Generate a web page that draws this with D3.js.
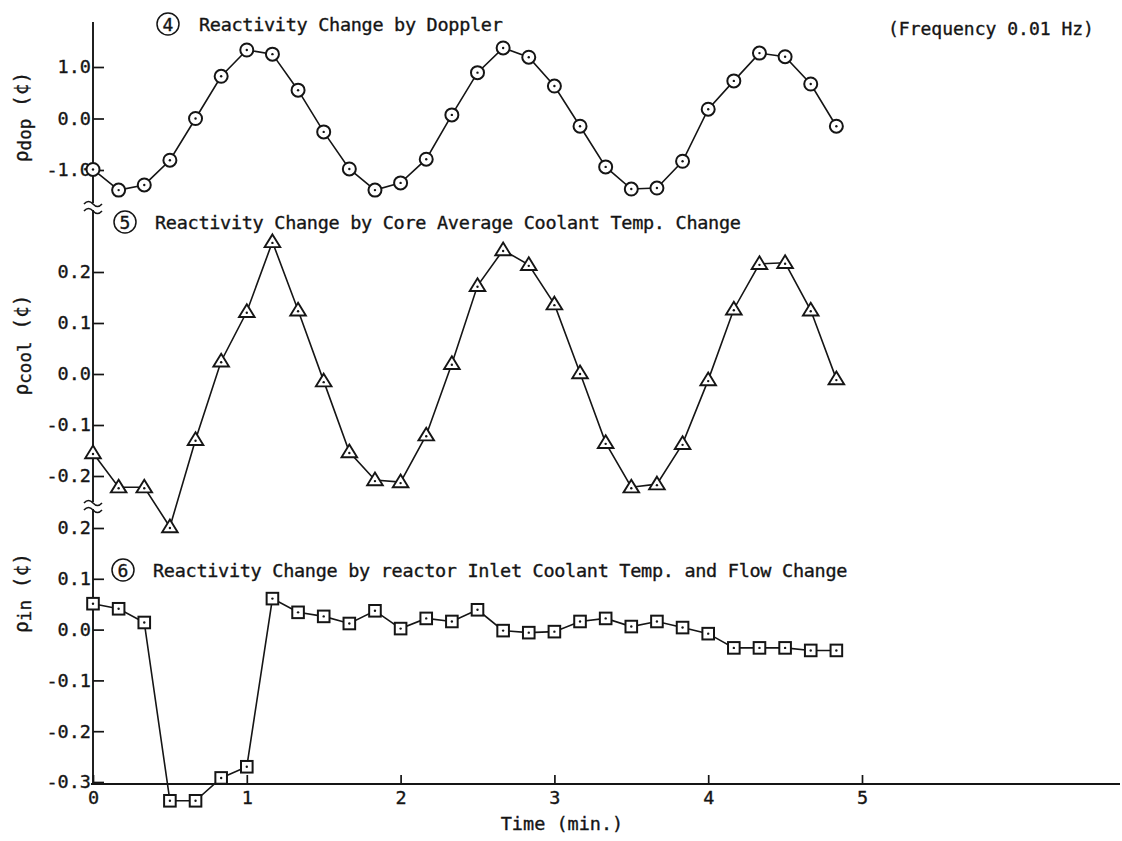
<!DOCTYPE html>
<html>
<head>
<meta charset="utf-8">
<script src="https://cdn.jsdelivr.net/npm/d3@7"></script>
<style>
  html, body { margin: 0; padding: 0; background: #fff; }
  svg { display: block; }
  text { font-family: "DejaVu Sans Mono", "Liberation Mono", monospace; fill: #151515; stroke: #151515; stroke-width: 0.35px; }
</style>
</head>
<body>
<svg id="chart" width="1122" height="841"></svg>
<script>
// ---- data ----
const timeSec = [0,10,20,30,40,50,60,70,80,90,100,110,120,130,140,150,160,170,180,190,200,210,220,230,240,250,260,270,280,290];
const rhoDop = [-0.99,-1.39,-1.29,-0.81,0.00,0.82,1.33,1.25,0.55,-0.26,-0.98,-1.39,-1.25,-0.79,0.07,0.89,1.37,1.19,0.63,-0.15,-0.94,-1.37,-1.35,-0.83,0.18,0.73,1.27,1.20,0.67,-0.15];
const rhoCool = [-0.155,-0.222,-0.222,-0.300,-0.129,0.025,0.122,0.259,0.125,-0.014,-0.153,-0.208,-0.212,-0.120,0.020,0.173,0.243,0.214,0.137,0.002,-0.135,-0.222,-0.216,-0.137,-0.012,0.127,0.216,0.218,0.125,-0.010];
const rhoIn = [0.051,0.041,0.014,-0.337,-0.337,-0.292,-0.270,0.061,0.034,0.026,0.012,0.037,0.002,0.022,0.016,0.039,-0.002,-0.006,-0.004,0.016,0.022,0.006,0.016,0.004,-0.008,-0.036,-0.036,-0.036,-0.041,-0.041];

const timeTicks = [0,1,2,3,4,5];
const dopTicks = [-1.0,0.0,1.0];
const coolTicks = [-0.2,-0.1,0.0,0.1,0.2];
const inTicks = [-0.3,-0.2,-0.1,0.0,0.1,0.2];

const titles = [
  {num: "4", text: "Reactivity Change by Doppler"},
  {num: "5", text: "Reactivity Change by Core Average Coolant Temp. Change"},
  {num: "6", text: "Reactivity Change by reactor Inlet Coolant Temp. and Flow Change"}
];
const freqNote = "(Frequency 0.01 Hz)";
const xTitle = "Time (min.)";

// ---- drawing ----
const ink = "#151515";
const svg = d3.select("#chart");
svg.append("rect").attr("width",1122).attr("height",841).attr("fill","#fff");

const x = d3.scaleLinear().domain([0,5]).range([93,862]);
const yDop = d3.scaleLinear().domain([-1,1]).range([170,67]);
const yCool = d3.scaleLinear().domain([-0.2,0.2]).range([476,272]);
const yIn = d3.scaleLinear().domain([-0.3,0.2]).range([782,528]);

const fmt = d => { const s = d.toFixed(1); return s === "-0.0" ? "0.0" : s; };
const axisX0 = 93, axisY = 784;

function styleAxis(g){
  g.select(".domain").remove();
  g.selectAll(".tick line").attr("stroke", ink).attr("stroke-width", 1.7);
  g.selectAll(".tick text").attr("font-size", 18.5).attr("fill", ink)
    .style("font-family", '"DejaVu Sans Mono", monospace');
}

// y axes
[[yDop,dopTicks],[yCool,coolTicks],[yIn,inTicks]].forEach(([sc,tv]) => {
  svg.append("g").attr("transform", `translate(${axisX0},0)`)
    .call(d3.axisLeft(sc).tickValues(tv).tickSize(-11).tickPadding(2).tickFormat(fmt))
    .call(styleAxis);
});

// x axis
svg.append("g").attr("transform", `translate(0,${axisY})`)
  .call(d3.axisBottom(x).tickValues(timeTicks).tickSize(-9).tickPadding(7).tickFormat(d3.format("d")))
  .call(styleAxis);

// axis lines
svg.append("line").attr("x1",axisX0).attr("x2",axisX0).attr("y1",22).attr("y2",axisY)
  .attr("stroke",ink).attr("stroke-width",1.9);
svg.append("line").attr("x1",axisX0-2).attr("x2",1120).attr("y1",axisY).attr("y2",axisY)
  .attr("stroke",ink).attr("stroke-width",1.9);

// axis breaks
[203, 502].forEach(yb => {
  svg.append("rect").attr("x",axisX0-3).attr("y",yb).attr("width",6).attr("height",7).attr("fill","#fff");
  [yb, yb+7].forEach(yy => {
    svg.append("path").attr("d", `M${axisX0-9},${yy+1} q4.5,-5 9,0 t9,0`)
      .attr("fill","none").attr("stroke",ink).attr("stroke-width",1.6);
  });
});

// series
const lineGen = sc => d3.line().x((d,i) => x(timeSec[i]/60)).y(d => sc(d));
function drawSeries(vals, sc, shape){
  const g = svg.append("g");
  g.append("path").datum(vals).attr("d", lineGen(sc))
    .attr("fill","none").attr("stroke",ink).attr("stroke-width",1.6);
  const m = g.selectAll("g.m").data(vals).join("g")
    .attr("transform",(d,i) => `translate(${x(timeSec[i]/60)},${sc(d)})`);
  if (shape === "circle") {
    m.append("circle").attr("r",6.5).attr("fill","#fff").attr("stroke",ink).attr("stroke-width",2);
  } else if (shape === "triangle") {
    m.append("path").attr("d","M0,-7.5 L7.8,5.2 L-7.8,5.2 Z").attr("fill","#fff").attr("stroke",ink).attr("stroke-width",1.9);
  } else {
    m.append("rect").attr("x",-5.8).attr("y",-5.8).attr("width",11.6).attr("height",11.6)
      .attr("fill","#fff").attr("stroke",ink).attr("stroke-width",2);
  }
  m.append("circle").attr("r",1.2).attr("cy", shape === "triangle" ? 1 : 0).attr("fill",ink);
}
drawSeries(rhoDop, yDop, "circle");
drawSeries(rhoCool, yCool, "triangle");
drawSeries(rhoIn, yIn, "square");

// panel titles with circled numbers
const titlePos = [
  {cx:168, cy:24, tx:199, ty:31},
  {cx:125, cy:222, tx:155, ty:229},
  {cx:123, cy:570, tx:153, ty:577}
];
titles.forEach((t,i) => {
  const p = titlePos[i];
  svg.append("circle").attr("cx",p.cx).attr("cy",p.cy).attr("r",11)
    .attr("fill","none").attr("stroke",ink).attr("stroke-width",1.5);
  svg.append("text").attr("x",p.cx).attr("y",p.cy+6.5).attr("text-anchor","middle")
    .attr("font-size",18).text(t.num);
  svg.append("text").attr("x",p.tx).attr("y",p.ty).attr("font-size",18.5)
    .attr("textLength", t.text.length*10.85).attr("lengthAdjust","spacing").text(t.text);
});

svg.append("text").attr("x",888).attr("y",35).attr("font-size",18).text(freqNote);
svg.append("text").attr("x",562).attr("y",830).attr("text-anchor","middle").attr("font-size",18.5).text(xTitle);

// y-axis titles (rotated)
function yTitle(cy, sub){
  const t = svg.append("text").attr("transform",`translate(28,${cy}) rotate(-90)`)
    .attr("text-anchor","middle").attr("font-size",19.5);
  t.append("tspan").text("\u03C1");
  t.append("tspan").attr("font-size",17.5).attr("dy",3).text(sub);
  t.append("tspan").attr("dy",-3).text(" (\u00A2)");
}
yTitle(117, "dop");
yTitle(345, "cool");
yTitle(593, "in");
</script>
</body>
</html>
